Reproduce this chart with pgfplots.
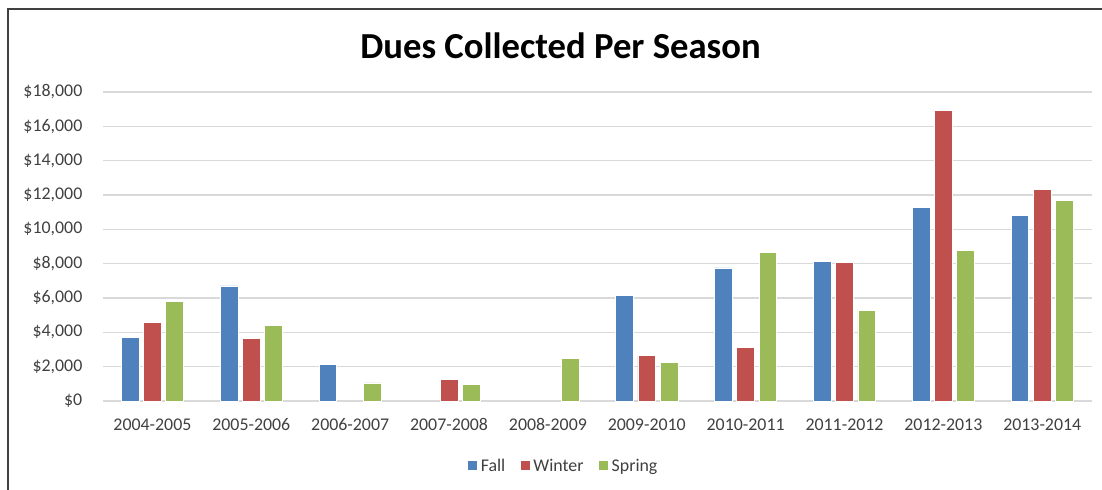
\documentclass[border=0pt]{standalone}
\usepackage{pgfplots}
\pgfplotsset{compat=1.18}
\usepackage{fontspec}
\setmainfont{Carlito}
\definecolor{fallc}{HTML}{4F81BD}
\definecolor{winterc}{HTML}{C0504D}
\definecolor{springc}{HTML}{9BBB59}
\definecolor{gridc}{HTML}{D9D9D9}
\definecolor{txt}{HTML}{404040}
\begin{document}
\begin{tikzpicture}
\useasboundingbox (0pt,0pt) rectangle (826.5pt,366.75pt);
\draw[line width=1.5pt, color=black!75] (6pt,-2pt) -- (6pt,360pt) -- (830pt,360pt);
\node[anchor=base, font=\fontsize{27.5}{30}\selectfont\bfseries, text=black] at (420.4pt,322.5pt) {Dues Collected Per Season};
\begin{axis}[
  at={(77.25pt,66pt)}, anchor=south west,
  scale only axis, width=741.5pt, height=231.75pt,
  ybar=3.4pt, bar width=13.3pt,
  xmin=-0.5, xmax=9.5, ymin=0, ymax=18000,
  xtick={0,1,...,9},
  xticklabels={2004-2005,2005-2006,2006-2007,2007-2008,2008-2009,2009-2010,2010-2011,2011-2012,2012-2013,2013-2014},
  ytick={0,2000,...,18000},
  scaled y ticks=false,
  yticklabels={{\$0},{\$2,000},{\$4,000},{\$6,000},{\$8,000},{\$10,000},{\$12,000},{\$14,000},{\$16,000},{\$18,000}},
  ymajorgrids, grid style={gridc, line width=1.1pt},
  axis line style={draw=none},
  major tick style={draw=none},
  tick label style={font=\fontsize{13.4}{15}\selectfont, text=txt},
  yticklabel style={xshift=-12pt},
  xticklabel style={yshift=-5.5pt},
  legend style={at={(0.466,-0.21)}, anchor=center, draw=none, fill=none,
    legend columns=-1, font=\fontsize{13.4}{15}\selectfont, text=txt,
    /tikz/every even column/.append style={column sep=9pt}},
  legend image code/.code={\fill[#1] (0pt,-3.75pt) rectangle (7.5pt,3.75pt);},
  every axis plot/.append style={draw=white, line width=0.6pt},
]
\addplot[fill=fallc] coordinates {(0,3700) (1,6700) (2,2150) (5,6150) (6,7750) (7,8150) (8,11300) (9,10800)};
\addplot[fill=winterc] coordinates {(0,4600) (1,3650) (3,1250) (5,2650) (6,3100) (7,8050) (8,16950) (9,12300)};
\addplot[fill=springc] coordinates {(0,5800) (1,4400) (2,1050) (3,950) (4,2500) (5,2240) (6,8650) (7,5300) (8,8750) (9,11700)};
\legend{Fall,Winter,Spring}
\end{axis}
\end{tikzpicture}
\end{document}
